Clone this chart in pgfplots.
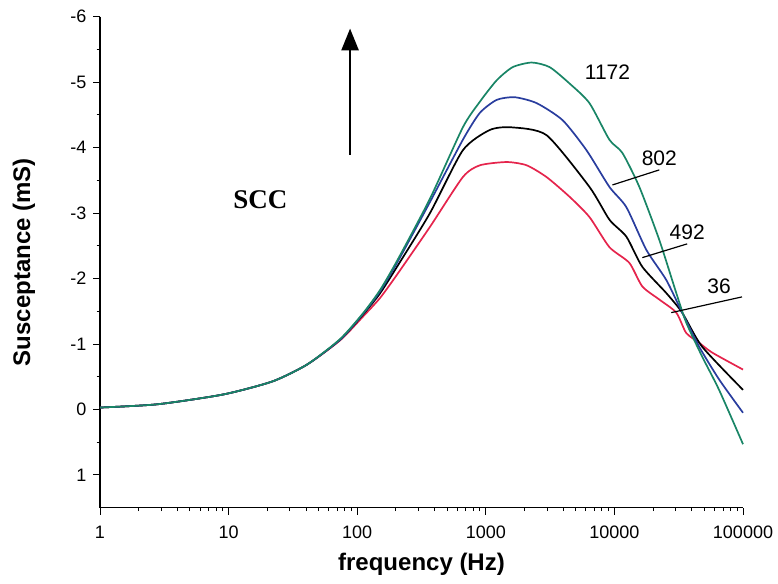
\documentclass[border=0pt]{standalone}
\usepackage{pgfplots}
\pgfplotsset{compat=1.18}
\usepackage{fontspec}
\setmainfont{Liberation Sans}
\newfontfamily\timesfont{Liberation Serif}
\usetikzlibrary{arrows.meta}
\definecolor{cgreen}{rgb}{0.10,0.52,0.40}
\definecolor{cblue}{rgb}{0.16,0.24,0.62}
\definecolor{cred}{rgb}{0.90,0.14,0.30}
\begin{document}
\begin{tikzpicture}
\begin{axis}[
  scale only axis, width=643pt, height=491pt,
  xmode=log, xmin=1, xmax=100000,
  ymin=-6, ymax=1.5, y dir=reverse,
  axis x line*=bottom, axis y line*=left,
  axis line style={line width=1.4pt,-},
  xtick={1,10,100,1000,10000,100000},
  xticklabels={1,10,100,1000,10000,100000},
  ytick={-6,-5,-4,-3,-2,-1,0,1},
  yticklabels={-6,-5,-4,-3,-2,-1,0,1},
  minor y tick num=1,
  tick align=outside,
  major tick length=7pt, minor tick length=3.5pt,
  every tick/.style={line width=1pt,black},
  tick label style={font=\fontsize{18}{20}\selectfont},
  xticklabel style={yshift=-8pt},
  yticklabel style={xshift=-3pt},
  xlabel={frequency (Hz)},
  ylabel={Susceptance (mS)},
  every axis x label/.style={at={(axis description cs:0.5,0)},anchor=center,yshift=-57pt,font=\bfseries\fontsize{24}{26}\selectfont},
  every axis y label/.style={at={(axis description cs:0,0.5)},rotate=90,anchor=center,yshift=76pt,font=\bfseries\fontsize{24}{26}\selectfont},
  clip=false,
  every axis plot/.append style={line width=1.7pt, smooth, tension=0.4},
]
% 36
\addplot[cred] coordinates {
(1,-0.03) (2.8,-0.08) (9.1,-0.23) (22,-0.43) (41,-0.69) (74,-1.06) (111,-1.42) (150,-1.70)
(204,-2.06) (368,-2.79) (663,-3.55) (898,-3.73) (1455,-3.78) (2080,-3.73)
(2970,-3.55) (4478,-3.25) (6398,-2.94) (9146,-2.48) (13060,-2.24) (16480,-1.88)
(22340,-1.68) (30270,-1.48) (36150,-1.17) (45600,-1.02) (57540,-0.87) (100000,-0.61)};
% 492
\addplot[black] coordinates {
(1,-0.03) (2.8,-0.08) (9.1,-0.23) (22,-0.43) (41,-0.69) (74,-1.07) (111,-1.45) (150,-1.77)
(204,-2.18) (368,-3.00) (663,-3.96) (1074,-4.27) (1590,-4.31) (2970,-4.19)
(6398,-3.40) (9146,-2.90) (12390,-2.64) (16480,-2.18) (25290,-1.78) (33650,-1.48)
(48080,-0.96) (100000,-0.30)};
% 802
\addplot[cblue] coordinates {
(1,-0.03) (2.8,-0.08) (9.1,-0.23) (22,-0.43) (41,-0.69) (74,-1.07) (111,-1.46) (150,-1.80)
(204,-2.24) (368,-3.17) (663,-4.12) (898,-4.53) (1217,-4.73) (1679,-4.77)
(2484,-4.68) (3953,-4.42) (6070,-3.96) (9146,-3.40) (12390,-3.09) (17700,-2.44)
(25290,-1.98) (33650,-1.48) (45600,-0.96) (65150,-0.46) (100000,0.05)};
% 1172
\addplot[cgreen] coordinates {
(1,-0.03) (2.8,-0.08) (9.1,-0.23) (22,-0.43) (41,-0.69) (74,-1.08) (111,-1.47) (150,-1.82)
(204,-2.27) (368,-3.22) (663,-4.31) (898,-4.70) (1217,-5.03) (1619,-5.23)
(2274,-5.30) (3135,-5.23) (4478,-4.98) (6398,-4.68) (9146,-4.12) (11530,-3.92)
(15630,-3.40) (22340,-2.59) (30270,-1.78) (36150,-1.33) (48080,-0.81)
(65150,-0.30) (100000,0.53)};
% annotations
\draw[line width=2.8pt,-{Triangle[width=17pt,length=22pt]}] (axis cs:88,-3.89) -- (axis cs:88,-5.82);
\node[font=\timesfont\bfseries\fontsize{27}{29}\selectfont] at (axis cs:17.7,-3.20) {SCC};
\node[font=\fontsize{21}{23}\selectfont] at (axis cs:8830,-5.15) {1172};
\node[font=\fontsize{21}{23}\selectfont] at (axis cs:22340,-3.84) {802};
\node[font=\fontsize{21}{23}\selectfont] at (axis cs:36800,-2.70) {492};
\node[font=\fontsize{21}{23}\selectfont] at (axis cs:65150,-1.88) {36};
\draw[line width=1.2pt] (axis cs:9650,-3.43) -- (axis cs:22340,-3.66);
\draw[line width=1.2pt] (axis cs:16480,-2.32) -- (axis cs:36800,-2.53);
\draw[line width=1.2pt] (axis cs:27670,-1.48) -- (axis cs:98200,-1.72);
\end{axis}
\path ([xshift=-100pt,yshift=-76pt]current axis.south west) rectangle ([xshift=35pt,yshift=16.7pt]current axis.north east);
\end{tikzpicture}
\end{document}
